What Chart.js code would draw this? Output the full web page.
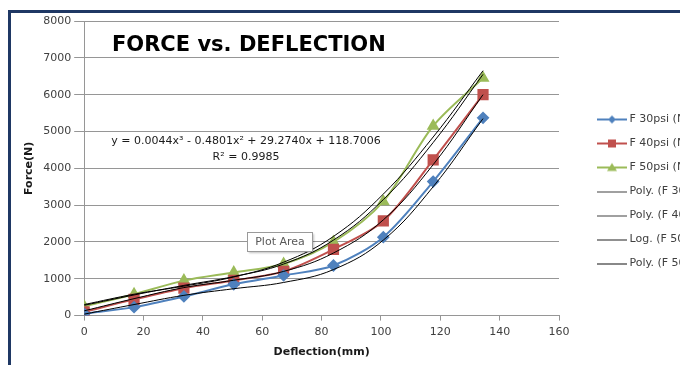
<!DOCTYPE html>
<html>
<head>
<meta charset="utf-8">
<script src="https://cdn.jsdelivr.net/npm/chart.js@4/dist/chart.umd.min.js"></script>
<style>
    body { margin: 0; background: #fff; overflow: hidden; }
    #wrap { position: relative; width: 680px; height: 365px; }
    #frame {
        position: absolute; left: 8px; top: 10px; width: 700px; height: 400px;
        border-left: 3px solid #1F3864; border-top: 3px solid #1F3864;
        pointer-events: none;
    }
</style>
</head>
<body>
<div id="wrap">
    <canvas id="chart" width="680" height="365"></canvas>
    <div id="frame"></div>
</div>
<script>
// values
const deflection = [0, 16.8, 33.6, 50.4, 67.2, 84, 100.8, 117.6, 134.4];
const f30 = [50, 230, 520, 850, 1090, 1360, 2130, 3640, 5370];
const f40 = [100, 440, 745, 955, 1200, 1800, 2570, 4230, 6000];
const f50 = [250, 580, 950, 1170, 1400, 2000, 3100, 5150, 6450];

// trend lines
const poly30 = [40, 300, 550, 730, 900, 1250, 2050, 3500, 5350];
const poly40 = [130, 460, 760, 960, 1200, 1700, 2600, 4100, 6000];
const log50 = [280, 560, 820, 1060, 1400, 2050, 3150, 4700, 6550];
const poly50 = [300, 580, 800, 1050, 1450, 2150, 3300, 4850, 6650];

const seriesNames = ['F 30psi (N)', 'F 40psi (N)', 'F 50psi (N)',
    'Poly. (F 30psi (N))', 'Poly. (F 40psi (N))', 'Log. (F 50psi (N))', 'Poly. (F 50psi (N))'];

const xTicks = [0, 20, 40, 60, 80, 100, 120, 140, 160];
const yTicks = [0, 1000, 2000, 3000, 4000, 5000, 6000, 7000, 8000];

const chartTitle = 'FORCE vs. DEFLECTION';
const equation = 'y = 0.0044x\u00B3 - 0.4801x\u00B2 + 29.2740x + 118.7006';
const rSquared = 'R\u00B2 = 0.9985';

const FONT = '"DejaVu Sans", sans-serif';

function toPoints(ys) {
    return deflection.map((x, i) => ({ x: x, y: ys[i] }));
}

// little legend pictures: line with the marker in the middle (like excel does it)
function legendImg(color, marker, lineW) {
    const c = document.createElement('canvas');
    c.width = 58; c.height = 12;
    const g = c.getContext('2d');
    g.fillStyle = color;
    g.fillRect(28, lineW > 1 ? 5 : 6, 30, lineW); // pixel aligned line
    const cx = 43, cy = 6;
    g.beginPath();
    if (marker === 'rectRot') {
        g.moveTo(cx, cy - 4); g.lineTo(cx + 4, cy); g.lineTo(cx, cy + 4); g.lineTo(cx - 4, cy);
    } else if (marker === 'rect') {
        g.rect(cx - 4, cy - 4, 8, 8);
    } else if (marker === 'triangle') {
        g.moveTo(cx, cy - 4.5); g.lineTo(cx + 5, cy + 3.5); g.lineTo(cx - 5, cy + 3.5);
    }
    g.closePath();
    if (marker) g.fill();
    return c;
}

const legendPics = [
    legendImg('#4F81BD', 'rectRot', 2),
    legendImg('#C0504D', 'rect', 2),
    legendImg('#9BBB59', 'triangle', 2),
    legendImg('#404040', null, 1),
    legendImg('#404040', null, 1),
    legendImg('#202020', null, 1),
    legendImg('#101010', null, 1)
];

function dataLine(label, ys, color, style, r) {
    return {
        label: label,
        data: toPoints(ys),
        showLine: true,
        borderColor: color,
        backgroundColor: color,
        borderWidth: 2,
        pointStyle: style,
        pointRadius: r,
        pointHoverRadius: r,
        tension: 0.3,
        order: 2
    };
}

function trendLine(label, ys) {
    return {
        label: label,
        data: toPoints(ys),
        showLine: true,
        borderColor: '#000000',
        backgroundColor: '#000000',
        borderWidth: 1,
        pointRadius: 0,
        tension: 0.4,
        order: 1
    };
}

const overlayText = {
    id: 'overlayText',
    afterDraw(chart) {
        const ctx = chart.ctx;
        ctx.save();
        ctx.textBaseline = 'middle';

        ctx.fillStyle = '#000';
        ctx.font = 'bold 21px ' + FONT;
        ctx.textAlign = 'left';
        ctx.fillText(chartTitle, 112, 46);

        ctx.font = '11px ' + FONT;
        ctx.fillStyle = '#1a1a1a';
        ctx.textAlign = 'center';
        ctx.fillText(equation, 246, 141);
        ctx.fillText(rSquared, 246, 157);

        // the "Plot Area" hover box
        ctx.shadowColor = 'rgba(0,0,0,0.25)';
        ctx.shadowOffsetX = 1;
        ctx.shadowOffsetY = 1;
        ctx.shadowBlur = 2;
        ctx.fillStyle = '#fff';
        ctx.fillRect(247.5, 232.5, 65, 19);
        ctx.shadowColor = 'transparent';
        ctx.strokeStyle = '#9a9a9a';
        ctx.lineWidth = 1;
        ctx.strokeRect(247.5, 232.5, 65, 19);
        ctx.fillStyle = '#595959';
        ctx.fillText('Plot Area', 280, 242);
        ctx.restore();
    }
};

const ctx = document.getElementById('chart').getContext('2d');
new Chart(ctx, {
    type: 'scatter',
    data: {
        datasets: [
            dataLine(seriesNames[0], f30, '#4F81BD', 'rectRot', 5),
            dataLine(seriesNames[1], f40, '#C0504D', 'rect', 6.5),
            dataLine(seriesNames[2], f50, '#9BBB59', 'triangle', 5.5),
            trendLine(seriesNames[3], poly30),
            trendLine(seriesNames[4], poly40),
            trendLine(seriesNames[5], log50),
            trendLine(seriesNames[6], poly50)
        ]
    },
    options: {
        responsive: false,
        animation: false,
        layout: { padding: { left: 11, top: 21, right: 0, bottom: 3 } },
        scales: {
            x: {
                type: 'linear',
                min: 0,
                max: 160,
                afterBuildTicks: s => { s.ticks = xTicks.map(v => ({ value: v })); },
                ticks: {
                    font: { family: FONT, size: 11 },
                    color: '#404040',
                    padding: 5,
                    callback: v => String(v)
                },
                grid: { drawOnChartArea: false, tickLength: 5, color: '#969696' },
                border: { color: '#969696' },
                title: {
                    display: true,
                    text: 'Deflection(mm)',
                    font: { family: FONT, size: 11, weight: 'bold' },
                    color: '#1a1a1a',
                    padding: { top: 2, bottom: 3 }
                }
            },
            y: {
                min: 0,
                max: 8000,
                afterBuildTicks: s => { s.ticks = yTicks.map(v => ({ value: v })); },
                ticks: {
                    font: { family: FONT, size: 11 },
                    color: '#404040',
                    padding: 3,
                    callback: v => String(v)
                },
                grid: { color: '#969696', tickLength: 10 },
                border: { color: '#969696' },
                title: {
                    display: true,
                    text: 'Force(N)',
                    font: { family: FONT, size: 11, weight: 'bold' },
                    color: '#1a1a1a',
                    padding: { top: 12, bottom: 4 }
                }
            }
        },
        plugins: {
            legend: {
                position: 'right',
                maxWidth: 121,
                labels: {
                    usePointStyle: true,
                    pointStyleWidth: 52,
                    padding: 13,
                    color: '#404040',
                    font: { family: FONT, size: 11 },
                    sort: (a, b) => a.datasetIndex - b.datasetIndex,
                    generateLabels: chart => {
                        const items = Chart.defaults.plugins.legend.labels.generateLabels(chart);
                        items.forEach(it => { it.pointStyle = legendPics[it.datasetIndex]; });
                        return items;
                    }
                }
            },
            tooltip: { enabled: false }
        }
    },
    plugins: [overlayText]
});
</script>
</body>
</html>
